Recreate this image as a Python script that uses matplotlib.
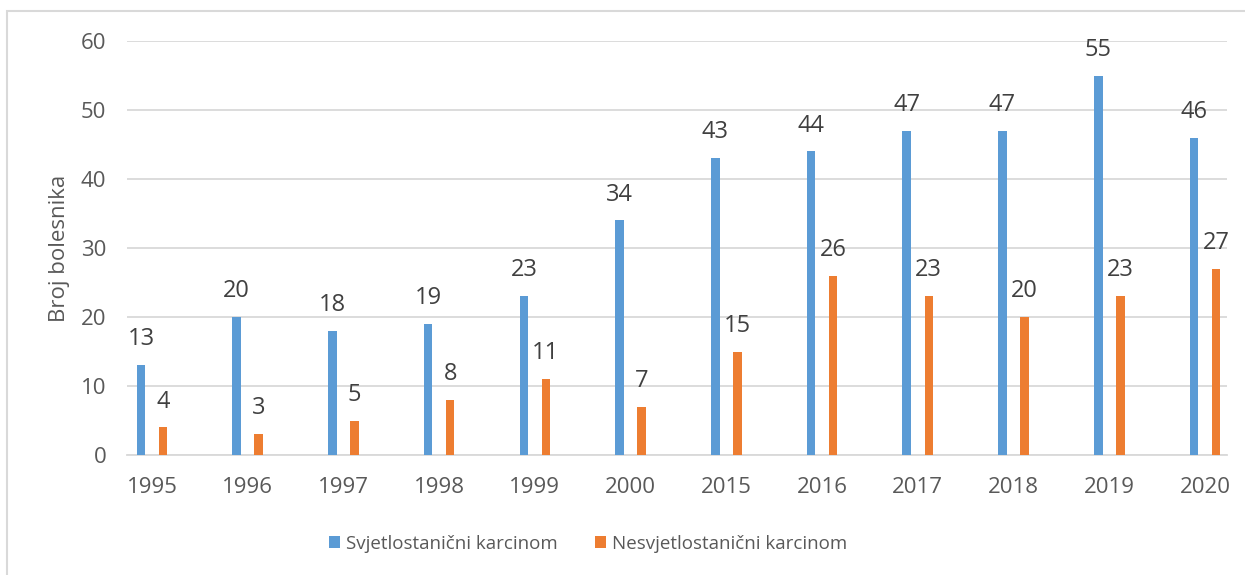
import numpy as np
import matplotlib.pyplot as plt
from matplotlib.patches import Rectangle

# Broj bolesnika po godinama
years = ['1995', '1996', '1997', '1998', '1999', '2000',
         '2015', '2016', '2017', '2018', '2019', '2020']
svjetlostanicni = [13, 20, 18, 19, 23, 34, 43, 44, 47, 47, 55, 46]
nesvjetlostanicni = [4, 3, 5, 8, 11, 7, 15, 26, 23, 20, 23, 27]

BLUE = '#5B9BD5'
ORANGE = '#ED7D31'
TEXT = '#595959'
GRID = '#D9D9D9'

plt.rcParams['font.family'] = ['Open Sans', 'DejaVu Sans']

fig = plt.figure(figsize=(12.45, 5.75), dpi=100)
ax = fig.add_axes([127 / 1245, 1 - 455 / 575, 1100 / 1245, 414 / 575])

x = np.arange(len(years))
w = 0.09
off = 0.115
b1 = ax.bar(x - off, svjetlostanicni, w, color=BLUE, label='Svjetlostanični karcinom', zorder=3)
b2 = ax.bar(x + off, nesvjetlostanicni, w, color=ORANGE, label='Nesvjetlostanični karcinom', zorder=3)

for bars in (b1, b2):
    for r in bars:
        ax.annotate(f'{int(r.get_height())}', (r.get_x() + r.get_width() / 2, r.get_height()),
                    xytext=(0, 10), textcoords='offset points', ha='center', va='bottom',
                    fontsize=17, color='#404040')

ax.set_xlim(-0.261, 11.23)
ax.set_ylim(0, 60)
ax.set_yticks(range(0, 61, 10))
ax.set_xticks(x)
ax.set_xticklabels(years)
ax.tick_params(axis='both', length=0, labelsize=16, labelcolor=TEXT)
ax.tick_params(axis='y', pad=15)
ax.tick_params(axis='x', pad=16)
ax.grid(axis='y', color=GRID, linewidth=1.3, zorder=0)
for s in ['top', 'right', 'left']:
    ax.spines[s].set_visible(False)
ax.spines['bottom'].set_color(GRID)
ax.spines['bottom'].set_linewidth(1.3)

ax.set_ylabel('Broj bolesnika', fontsize=16, color=TEXT, labelpad=8)

leg = fig.legend(loc='center', bbox_to_anchor=(588 / 1245, 1 - 544 / 575), ncol=2,
                 frameon=False, fontsize=13.5, handlelength=0.6, handleheight=0.6,
                 handletextpad=0.3, columnspacing=2.0, labelcolor=TEXT)

# okvir grafikona
fig.patches.append(Rectangle((7 / 1245, -0.1), 1.1, 1 - 11 / 575 + 0.1, transform=fig.transFigure,
                             fill=False, edgecolor=GRID, linewidth=1.5))

fig.savefig('out.png', dpi=100)
